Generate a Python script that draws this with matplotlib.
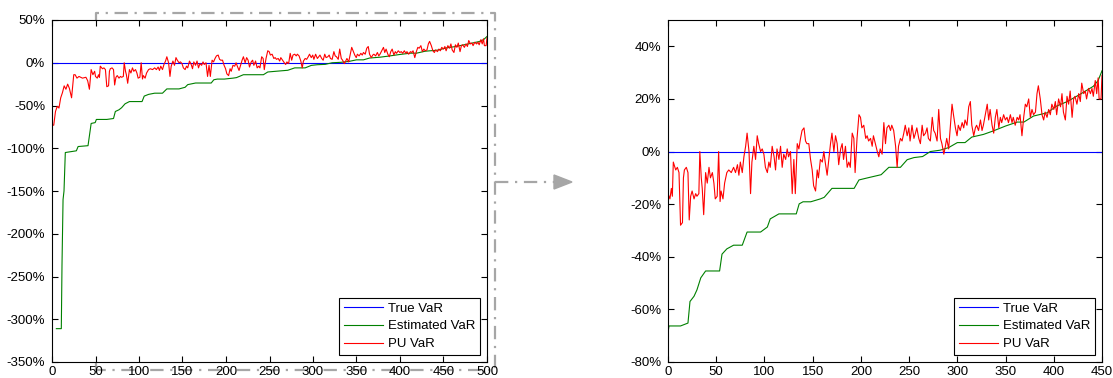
import numpy as np
import matplotlib
matplotlib.use('Agg')
import matplotlib.pyplot as plt
from matplotlib.lines import Line2D
from matplotlib.patches import Polygon
from matplotlib.ticker import FuncFormatter

plt.rcParams['font.family'] = ['Liberation Sans', 'DejaVu Sans']
plt.rcParams['font.size'] = 9.5

# Day index (left chart); right chart shows days 50..500 re-indexed 0..450
zoom_start = 50

true_x = [0, 500]
true_var = [0, 0]

est_x = [5, 10.7, 11.5, 12.7, 13.8, 15.3, 28, 30, 41.4, 43.2, 45, 49.6, 50, 51, 63,
         70.7, 72.8, 77, 80, 84, 89, 103.5, 106, 111, 118, 127, 132, 146, 153, 156,
         165, 183, 186, 190, 198, 208, 212, 220, 243, 248, 257, 271, 279, 291, 298,
         305, 314, 322, 332, 341, 350, 358, 365, 377, 387, 400, 412, 419, 429, 443,
         453, 464, 477, 491, 496, 500]
est_var = [-311, -311, -236, -160, -150, -105, -103, -98, -97, -84, -71, -70, -69, -66.3, -66.3,
           -65.2, -57, -55, -52.6, -48, -45.4, -45.4, -39, -37, -35.6, -35.6, -30.6, -30.6, -28.7, -25.6,
           -23.7, -23.7, -19.9, -19.1, -19.1, -18, -17.4, -14, -14, -10.8, -10, -8.8, -6, -6, -3.1,
           -2.3, -1.9, 0, 0.5, 1.5, 3.4, 3.4, 5.5, 6.5, 7.8, 9.7, 11.2, 11.2, 13.5, 14.7,
           17.3, 19, 21.7, 24.8, 27, 30.7]

pu_x = [0, 2, 4, 6, 8, 10, 12, 14, 16, 18, 20, 22.5, 25, 26.6, 28.7, 31, 35, 39, 41, 43, 45, 47, 49,
        50, 52, 53.5, 54.5, 55.5, 58, 59.7, 61.4, 63, 65, 66, 67, 69, 70.7, 72, 73.5, 75, 77, 78.7,
        80, 82, 83, 84.5, 85.5, 87, 89, 90.7, 92.5, 94, 96, 97.6, 99, 101, 102.5, 104, 105, 107,
        108.7, 111, 113, 115.6, 118, 120, 122, 123.5, 125, 127, 128.7, 130.5, 132, 134, 135.6, 137,
        139, 140.8, 142.5, 144, 146, 147.7, 149.4, 151, 153, 154.6, 156, 158, 160, 161.5, 163, 165,
        166.7, 168.4, 170, 172, 173.6, 175, 177, 178.8, 180.5, 182, 184, 185.7, 187.4, 189, 191,
        192.6, 194, 196, 197.8, 199.5, 201, 203, 204.7, 206, 208, 210, 211.6, 213, 215, 216.8,
        218.5, 220, 222, 223.7, 225.4, 227, 229, 230.6, 232, 234, 235.8, 237.5, 239, 241, 242.7,
        244, 246, 248, 249.6, 251, 253, 255, 256.5, 258, 260, 261.7, 263, 265, 267, 268.6, 270,
        272, 273.8, 275.5, 277, 279, 280.7, 282, 284, 286, 287.6, 289, 291, 292.7, 294.5, 296, 298,
        299.7, 301, 303, 305, 306.6, 308, 310, 311.7, 313.5, 315, 317, 318.6, 320, 322, 324, 325.5,
        327, 329, 330.7, 332.5, 334, 336, 337.6, 339, 341, 342.8, 344.5, 346, 348, 349.7, 351, 353,
        355, 356.6, 358, 360, 361.8, 363.5, 365, 367, 368.7, 370, 372, 374, 375.6, 377, 379, 381,
        382.5, 384, 386, 387.7, 389.4, 391, 393, 394.6, 396, 398, 399.8, 401.5, 403, 405, 406.7,
        408, 410, 412, 413.6, 415, 417, 418.8, 420.5, 422, 424, 425.7, 427.4, 429, 431, 432.6, 434,
        436, 437.8, 439.5, 441, 443, 444.7, 446.4, 448, 450, 451.6, 453, 455, 457, 458.5, 460, 462,
        463.7, 465.4, 467, 469, 470.6, 472, 474, 475.8, 477.5, 479, 481, 482.7, 484, 486, 488,
        489.6, 491, 493, 494.5, 496, 497, 499, 500]
pu_var = [-73, -73, -57, -51, -53, -41, -35, -27, -31, -25, -30, -41, -14, -14, -18, -16, -18, -17, -21, -31, -8, -14, -10,
          -16, -18, -14, -17, -4, -7, -6, -8, -28, -27, -10, -7, -6, -8, -26, -17, -15, -18, -16,
          -17, -16, 0, -10, -14, -24, -8, -12, -6, -10, -8, -12, -18, -17, 0, -19, -15, -18,
          -12, -8, -7, -8, -6, -8, -5, -9, -4, -8, -2, 2, 7, 0, -16, -4,
          2, -3, 6, 3, 0, 1, -1, -6, -8, -4, -6, 2, -2, -7, 1, -3,
          2, -6, -1, -3, 1, -2, 0, -16, -3, -16, 3, 1, 5, 8, 9,
          4, 3, 3, -3, -7, -13, -15, -7, -10, -3, -4, 0, -4, -9, -3,
          3, 7, 0, 6, 3, -5, 1, 3, -3, 2, -6, -4, -6, 7, 5,
          -8, 5, 14, 13, 9, 10, 5, 6, 4, 5, 2, 6, 3, 0, -2, 1,
          -1, 11, 3, 9, 10, 8, 10, 8, 2, -6, 2, 5, 4, 7, 10, 6,
          9, 4, 10, 5, 7, 9, 5, 3, 10, 6, 7, 9, 5, 4, 13, 8,
          7, 4, 16, 5, 3, -1, 2, 5, 1, 10, 18, 14, 9, 6, 10, 8,
          11, 9, 12, 10, 17, 19, 10, 6, 9, 10, 8, 12, 8, 10, 14, 18,
          12, 16, 10, 7, 13, 16, 9, 13, 11, 14, 12, 13, 11, 14, 11,
          13, 10, 13, 12, 14, 6, 13, 18, 17, 20, 13, 16, 14, 15, 22, 25,
          20, 14, 12, 15, 13, 16, 14, 18, 16, 19, 14, 20, 17, 22, 15, 12,
          21, 18, 23, 13, 20, 21, 18, 22, 19, 26, 22, 23, 20, 24, 22,
          24, 21, 27, 22, 28, 20, 20, 29]

fig = plt.figure(figsize=(11.13, 3.78), dpi=100)
W, H = 1113, 378
ax1 = fig.add_axes([52 / W, 1 - 362 / H, 435 / W, 342 / H])
ax2 = fig.add_axes([668 / W, 1 - 362 / H, 434 / W, 342 / H])

pct = FuncFormatter(lambda v, p: '%d%%' % round(v))


def draw(ax, shift, xmax, ylo, yhi, ystep):
    tx = np.array(true_x) - shift
    ex = np.array(est_x) - shift
    px = np.array(pu_x) - shift
    ax.plot(tx, true_var, color='#0000ff', lw=0.8, label='True VaR')
    ax.plot(ex, est_var, color='#008000', lw=0.8, label='Estimated VaR')
    ax.plot(px, pu_var, color='#ff0000', lw=0.8, label='PU VaR')
    ax.set_xlim(0, xmax)
    ax.set_ylim(ylo, yhi)
    ax.set_xticks(np.arange(0, xmax + 1, 50))
    ax.set_yticks(np.arange(ylo, yhi + 1, ystep))
    ax.yaxis.set_major_formatter(pct)
    ax.tick_params(direction='in', length=4, width=0.8, top=True, right=True)
    ax.tick_params(axis='y', pad=5)
    ax.tick_params(axis='x', pad=3)
    for s in ax.spines.values():
        s.set_linewidth(0.8)
    leg = ax.legend(loc='lower right', handlelength=3.0, labelspacing=0.42,
                    borderaxespad=0.55, fancybox=False, framealpha=1,
                    edgecolor='black', borderpad=0.35, handletextpad=0.35)
    leg.get_frame().set_linewidth(0.8)


draw(ax1, 0, 500, -350, 50, 50)
draw(ax2, zoom_start, 450, -80, 50, 20)
ax2.set_yticks(np.arange(-80, 41, 20))

# dash-dot zoom frame and arrow (figure pixel coordinates)
grey = '#a6a6a6'
def fx(p):
    return p / W
def fy(p):
    return 1 - p / H

frame_x = [96, 96, 495, 495, 96]
frame_y = [370, 13, 13, 370, 370]
fig.add_artist(Line2D([fx(v) for v in frame_x], [fy(v) for v in frame_y], color=grey,
                      lw=1.6, ls=(0, (6, 3, 1, 3)), zorder=0))
fig.add_artist(Line2D([fx(495), fx(554)], [fy(182), fy(182)], color=grey,
                      lw=1.6, ls=(0, (6, 3, 1, 3))))
fig.add_artist(Polygon([[fx(554), fy(175)], [fx(572), fy(182)], [fx(554), fy(189)]],
                       closed=True, color=grey, transform=fig.transFigure))

fig.savefig('out.png', dpi=100)
